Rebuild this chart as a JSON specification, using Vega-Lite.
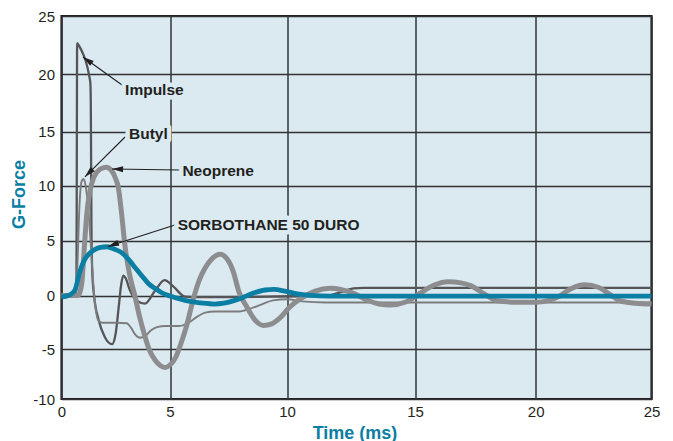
{
  "$schema": "https://vega.github.io/schema/vega-lite/v6.json",
  "width": 590,
  "height": 383,
  "autosize": {"type": "none"},
  "padding": {"left": 61.5, "top": 16, "right": 21.5, "bottom": 42},
  "background": "white",
  "config": {
    "view": {"fill": "#daeaf0", "stroke": "#231f20", "strokeWidth": 2.2},
    "font": "Liberation Sans"
  },
  "datasets": {
    "curves": [
      {"series": "Impulse", "t": 0, "g": 0},
      {"series": "Impulse", "t": 0.55, "g": 0},
      {"series": "Impulse", "t": 0.66, "g": 0.1},
      {"series": "Impulse", "t": 0.69, "g": 1.5},
      {"series": "Impulse", "t": 0.705, "g": 12},
      {"series": "Impulse", "t": 0.72, "g": 22.67},
      {"series": "Impulse", "t": 0.85, "g": 22.3},
      {"series": "Impulse", "t": 1.0, "g": 21.7},
      {"series": "Impulse", "t": 1.15, "g": 20.9},
      {"series": "Impulse", "t": 1.27, "g": 19.9},
      {"series": "Impulse", "t": 1.33, "g": 19.2},
      {"series": "Impulse", "t": 1.35, "g": 17.5},
      {"series": "Impulse", "t": 1.365, "g": 12},
      {"series": "Impulse", "t": 1.38, "g": 6},
      {"series": "Impulse", "t": 1.42, "g": 2},
      {"series": "Impulse", "t": 1.5, "g": 0},
      {"series": "Impulse", "t": 1.7, "g": -2.2},
      {"series": "Impulse", "t": 2.0, "g": -3.9},
      {"series": "Impulse", "t": 2.33, "g": -4.55},
      {"series": "Impulse", "t": 2.5, "g": -3.5},
      {"series": "Impulse", "t": 2.65, "g": -0.8},
      {"series": "Impulse", "t": 2.75, "g": 1.0},
      {"series": "Impulse", "t": 2.85, "g": 1.8},
      {"series": "Impulse", "t": 2.95, "g": 1.6},
      {"series": "Impulse", "t": 3.15, "g": 0.5},
      {"series": "Impulse", "t": 3.45, "g": -0.45},
      {"series": "Impulse", "t": 3.85, "g": -0.75},
      {"series": "Impulse", "t": 4.3, "g": 0.4},
      {"series": "Impulse", "t": 4.75, "g": 1.4},
      {"series": "Impulse", "t": 5.15, "g": 0.8},
      {"series": "Impulse", "t": 5.64, "g": -0.1},
      {"series": "Impulse", "t": 6.2, "g": -0.15},
      {"series": "Impulse", "t": 11.6, "g": 0},
      {"series": "Impulse", "t": 12.1, "g": 0.3},
      {"series": "Impulse", "t": 12.6, "g": 0.65},
      {"series": "Impulse", "t": 13.0, "g": 0.7},
      {"series": "Impulse", "t": 25, "g": 0.7},

      {"series": "Butyl", "t": 0, "g": 0},
      {"series": "Butyl", "t": 0.6, "g": 0},
      {"series": "Butyl", "t": 0.68, "g": 0.5},
      {"series": "Butyl", "t": 0.74, "g": 3},
      {"series": "Butyl", "t": 0.8, "g": 6.8},
      {"series": "Butyl", "t": 0.86, "g": 9.3},
      {"series": "Butyl", "t": 0.93, "g": 10.4},
      {"series": "Butyl", "t": 1.0, "g": 10.6},
      {"series": "Butyl", "t": 1.08, "g": 10.3},
      {"series": "Butyl", "t": 1.16, "g": 9.3},
      {"series": "Butyl", "t": 1.24, "g": 7.8},
      {"series": "Butyl", "t": 1.32, "g": 5.5},
      {"series": "Butyl", "t": 1.4, "g": 3.0},
      {"series": "Butyl", "t": 1.5, "g": 0.2},
      {"series": "Butyl", "t": 1.6, "g": -1.6},
      {"series": "Butyl", "t": 1.72, "g": -2.4},
      {"series": "Butyl", "t": 1.9, "g": -2.55},
      {"series": "Butyl", "t": 2.5, "g": -2.55},
      {"series": "Butyl", "t": 3.0, "g": -2.6},
      {"series": "Butyl", "t": 3.2, "g": -3.0},
      {"series": "Butyl", "t": 3.4, "g": -3.65},
      {"series": "Butyl", "t": 3.62, "g": -3.95},
      {"series": "Butyl", "t": 3.85, "g": -3.8},
      {"series": "Butyl", "t": 4.1, "g": -3.3},
      {"series": "Butyl", "t": 4.4, "g": -2.95},
      {"series": "Butyl", "t": 4.8, "g": -2.85},
      {"series": "Butyl", "t": 5.4, "g": -2.85},
      {"series": "Butyl", "t": 5.8, "g": -2.55},
      {"series": "Butyl", "t": 6.15, "g": -2.0},
      {"series": "Butyl", "t": 6.5, "g": -1.6},
      {"series": "Butyl", "t": 6.9, "g": -1.5},
      {"series": "Butyl", "t": 7.9, "g": -1.5},
      {"series": "Butyl", "t": 8.4, "g": -1.25},
      {"series": "Butyl", "t": 8.9, "g": -0.85},
      {"series": "Butyl", "t": 9.4, "g": -0.45},
      {"series": "Butyl", "t": 10.0, "g": -0.35},
      {"series": "Butyl", "t": 10.6, "g": -0.55},
      {"series": "Butyl", "t": 11.5, "g": -0.65},
      {"series": "Butyl", "t": 25, "g": -0.65},

      {"series": "Neoprene", "t": 0, "g": 0},
      {"series": "Neoprene", "t": 0.75, "g": 0},
      {"series": "Neoprene", "t": 0.85, "g": 0.3},
      {"series": "Neoprene", "t": 0.94, "g": 1.2},
      {"series": "Neoprene", "t": 1.05, "g": 4.3},
      {"series": "Neoprene", "t": 1.16, "g": 7.3},
      {"series": "Neoprene", "t": 1.3, "g": 9.4},
      {"series": "Neoprene", "t": 1.5, "g": 10.8},
      {"series": "Neoprene", "t": 1.77, "g": 11.5},
      {"series": "Neoprene", "t": 2.05, "g": 11.7},
      {"series": "Neoprene", "t": 2.3, "g": 11.4},
      {"series": "Neoprene", "t": 2.5, "g": 10.6},
      {"series": "Neoprene", "t": 2.61, "g": 9.9},
      {"series": "Neoprene", "t": 2.75, "g": 7.8},
      {"series": "Neoprene", "t": 2.93, "g": 4.44},
      {"series": "Neoprene", "t": 3.15, "g": 1.8},
      {"series": "Neoprene", "t": 3.39, "g": -0.1},
      {"series": "Neoprene", "t": 3.6, "g": -2.0},
      {"series": "Neoprene", "t": 3.85, "g": -3.85},
      {"series": "Neoprene", "t": 4.05, "g": -5.1},
      {"series": "Neoprene", "t": 4.31, "g": -6.1},
      {"series": "Neoprene", "t": 4.55, "g": -6.65},
      {"series": "Neoprene", "t": 4.77, "g": -6.85},
      {"series": "Neoprene", "t": 5.0, "g": -6.6},
      {"series": "Neoprene", "t": 5.25, "g": -5.8},
      {"series": "Neoprene", "t": 5.45, "g": -4.6},
      {"series": "Neoprene", "t": 5.7, "g": -2.9},
      {"series": "Neoprene", "t": 6.0, "g": -0.3},
      {"series": "Neoprene", "t": 6.25, "g": 1.4},
      {"series": "Neoprene", "t": 6.5, "g": 2.5},
      {"series": "Neoprene", "t": 6.8, "g": 3.35},
      {"series": "Neoprene", "t": 7.14, "g": 3.75},
      {"series": "Neoprene", "t": 7.45, "g": 3.3},
      {"series": "Neoprene", "t": 7.7, "g": 2.2},
      {"series": "Neoprene", "t": 7.95, "g": 0.3},
      {"series": "Neoprene", "t": 8.28, "g": -1.05},
      {"series": "Neoprene", "t": 8.6, "g": -2.2},
      {"series": "Neoprene", "t": 9.0, "g": -2.8},
      {"series": "Neoprene", "t": 9.35, "g": -2.65},
      {"series": "Neoprene", "t": 9.7, "g": -2.1},
      {"series": "Neoprene", "t": 10.1, "g": -1.1},
      {"series": "Neoprene", "t": 10.56, "g": -0.25},
      {"series": "Neoprene", "t": 11.1, "g": 0.4},
      {"series": "Neoprene", "t": 11.7, "g": 0.65},
      {"series": "Neoprene", "t": 12.1, "g": 0.55},
      {"series": "Neoprene", "t": 12.48, "g": 0.3},
      {"series": "Neoprene", "t": 13.13, "g": -0.42},
      {"series": "Neoprene", "t": 13.6, "g": -0.8},
      {"series": "Neoprene", "t": 14.02, "g": -0.89},
      {"series": "Neoprene", "t": 14.67, "g": -0.58},
      {"series": "Neoprene", "t": 15.2, "g": 0.2},
      {"series": "Neoprene", "t": 15.8, "g": 0.95},
      {"series": "Neoprene", "t": 16.37, "g": 1.25},
      {"series": "Neoprene", "t": 16.9, "g": 1.15},
      {"series": "Neoprene", "t": 17.3, "g": 0.9},
      {"series": "Neoprene", "t": 17.9, "g": 0.1},
      {"series": "Neoprene", "t": 18.4, "g": -0.5},
      {"series": "Neoprene", "t": 19.2, "g": -0.62},
      {"series": "Neoprene", "t": 20.0, "g": -0.62},
      {"series": "Neoprene", "t": 20.5, "g": -0.5},
      {"series": "Neoprene", "t": 21.0, "g": -0.1},
      {"series": "Neoprene", "t": 21.5, "g": 0.6},
      {"series": "Neoprene", "t": 22.13, "g": 0.98},
      {"series": "Neoprene", "t": 22.7, "g": 0.75},
      {"series": "Neoprene", "t": 23.2, "g": 0.1},
      {"series": "Neoprene", "t": 23.64, "g": -0.5},
      {"series": "Neoprene", "t": 24.3, "g": -0.72},
      {"series": "Neoprene", "t": 25, "g": -0.8},

      {"series": "Sorbothane", "t": 0, "g": -0.15},
      {"series": "Sorbothane", "t": 0.39, "g": 0.05},
      {"series": "Sorbothane", "t": 0.62, "g": 0.5},
      {"series": "Sorbothane", "t": 0.85, "g": 2.2},
      {"series": "Sorbothane", "t": 1.08, "g": 3.3},
      {"series": "Sorbothane", "t": 1.3, "g": 3.85},
      {"series": "Sorbothane", "t": 1.55, "g": 4.2},
      {"series": "Sorbothane", "t": 1.8, "g": 4.37},
      {"series": "Sorbothane", "t": 2.1, "g": 4.43},
      {"series": "Sorbothane", "t": 2.45, "g": 4.2},
      {"series": "Sorbothane", "t": 2.77, "g": 3.9},
      {"series": "Sorbothane", "t": 3.08, "g": 3.3},
      {"series": "Sorbothane", "t": 3.39, "g": 2.55},
      {"series": "Sorbothane", "t": 3.7, "g": 1.8},
      {"series": "Sorbothane", "t": 4.0, "g": 1.1},
      {"series": "Sorbothane", "t": 4.31, "g": 0.65},
      {"series": "Sorbothane", "t": 4.62, "g": 0.25},
      {"series": "Sorbothane", "t": 5.0, "g": -0.05},
      {"series": "Sorbothane", "t": 5.3, "g": -0.25},
      {"series": "Sorbothane", "t": 5.64, "g": -0.45},
      {"series": "Sorbothane", "t": 6.0, "g": -0.6},
      {"series": "Sorbothane", "t": 6.4, "g": -0.72},
      {"series": "Sorbothane", "t": 6.9, "g": -0.8},
      {"series": "Sorbothane", "t": 7.3, "g": -0.72},
      {"series": "Sorbothane", "t": 7.7, "g": -0.5},
      {"series": "Sorbothane", "t": 8.1, "g": -0.2},
      {"series": "Sorbothane", "t": 8.6, "g": 0.25},
      {"series": "Sorbothane", "t": 9.06, "g": 0.5},
      {"series": "Sorbothane", "t": 9.45, "g": 0.55},
      {"series": "Sorbothane", "t": 9.9, "g": 0.4},
      {"series": "Sorbothane", "t": 10.4, "g": 0.15},
      {"series": "Sorbothane", "t": 10.9, "g": 0.02},
      {"series": "Sorbothane", "t": 11.7, "g": -0.05},
      {"series": "Sorbothane", "t": 25, "g": -0.05}
    ],
    "arrows": [
      {"name": "Impulse", "t": 0.99, "g": 21.47, "t2": 2.79, "g2": 19.04, "dir": 305.7},
      {"name": "Butyl", "t": 1.08, "g": 10.8, "t2": 2.93, "g2": 14.49, "dir": 225},
      {"name": "Neoprene", "t": 2.33, "g": 11.53, "t2": 5.43, "g2": 11.44, "dir": 271},
      {"name": "Sorbothane", "t": 2.14, "g": 4.45, "t2": 5.21, "g2": 6.41, "dir": 251}
    ],
    "labels": [
      {"text": "Impulse", "t": 2.93, "g": 18.17},
      {"text": "Butyl", "t": 3.11, "g": 14.31},
      {"text": "Neoprene", "t": 5.53, "g": 10.91},
      {"text": "SORBOTHANE 50 DURO", "t": 5.33, "g": 5.95}
    ]
  },
  "encoding": {
    "x": {
      "field": "t",
      "type": "quantitative",
      "title": "Time (ms)",
      "scale": {"domain": [0, 5, 10, 15, 20, 25], "range": [0, 108.5, 225.5, 353.5, 474.2, 590], "nice": false, "zero": false},
      "axis": {
        "values": [0, 5, 10, 15, 20, 25],
        "grid": true, "gridColor": "#333336", "gridWidth": 1.5,
        "domain": false, "ticks": false, "tickSize": 0,
        "labelPadding": 5, "labelFontSize": 15, "labelColor": "#231f20", "labelFont": "Liberation Sans",
        "labelFlush": false, "labelOverlap": false,
        "titleFontSize": 18, "titleFontWeight": "bold", "titleColor": "#0a7ea3", "titleFont": "Liberation Sans",
        "titleX": 293, "titleY": 39, "titleBaseline": "alphabetic", "titleAlign": "center"
      }
    },
    "y": {
      "field": "g",
      "type": "quantitative",
      "title": "G-Force",
      "scale": {"domain": [-10, -5, 0, 5, 10, 15, 20, 25], "range": [383, 333, 279.5, 224.5, 169.5, 115.5, 58, 0], "nice": false, "zero": false},
      "axis": {
        "values": [-10, -5, 0, 5, 10, 15, 20, 25],
        "labelExpr": "'' + datum.value",
        "grid": true, "gridColor": "#333336", "gridWidth": 1.5,
        "domain": false, "ticks": false, "tickSize": 0,
        "labelPadding": 7, "labelFontSize": 15, "labelColor": "#231f20", "labelFont": "Liberation Sans",
        "labelFlush": false, "labelOverlap": false,
        "titleFontSize": 18, "titleFontWeight": "bold", "titleColor": "#0a7ea3", "titleFont": "Liberation Sans",
        "titleAngle": -90, "titleX": -42, "titleY": 178, "titleAlign": "center", "titleBaseline": "middle"
      }
    }
  },
  "layer": [
    {
      "data": {"name": "curves"},
      "transform": [{"filter": "datum.series === 'Impulse'"}],
      "mark": {"type": "line", "interpolate": "monotone", "color": "#555557", "strokeWidth": 2.3}
    },
    {
      "data": {"name": "curves"},
      "transform": [{"filter": "datum.series === 'Butyl'"}],
      "mark": {"type": "line", "interpolate": "monotone", "color": "#7c7c7e", "strokeWidth": 1.9}
    },
    {
      "data": {"name": "curves"},
      "transform": [{"filter": "datum.series === 'Neoprene'"}],
      "mark": {"type": "line", "interpolate": "monotone", "color": "#8d8d90", "strokeWidth": 5}
    },
    {
      "data": {"name": "curves"},
      "transform": [{"filter": "datum.series === 'Sorbothane'"}],
      "mark": {"type": "line", "interpolate": "monotone", "color": "#0a7ea3", "strokeWidth": 4.8}
    },
    {
      "data": {"name": "arrows"},
      "mark": {"type": "rule", "color": "#231f20", "strokeWidth": 1.1},
      "encoding": {
        "x2": {"field": "t2"},
        "y2": {"field": "g2"}
      }
    },
    {
      "data": {"name": "arrows"},
      "mark": {"type": "point", "shape": "M0,0L0.55,2L-0.55,2Z", "filled": true, "color": "#231f20", "opacity": 1, "size": 121, "strokeWidth": 0},
      "encoding": {
        "angle": {"field": "dir", "type": "quantitative", "scale": null}
      }
    },
    {
      "data": {"name": "labels"},
      "mark": {"type": "text", "align": "left", "baseline": "alphabetic", "fontSize": 15.5, "fontWeight": "bold", "font": "Liberation Sans", "fill": "#daeaf0", "stroke": "#daeaf0", "strokeWidth": 9, "strokeJoin": "round"},
      "encoding": {"text": {"field": "text"}}
    },
    {
      "data": {"name": "labels"},
      "mark": {"type": "text", "align": "left", "baseline": "alphabetic", "fontSize": 15.5, "fontWeight": "bold", "font": "Liberation Sans", "color": "#231f20"},
      "encoding": {"text": {"field": "text"}}
    }
  ]
}
